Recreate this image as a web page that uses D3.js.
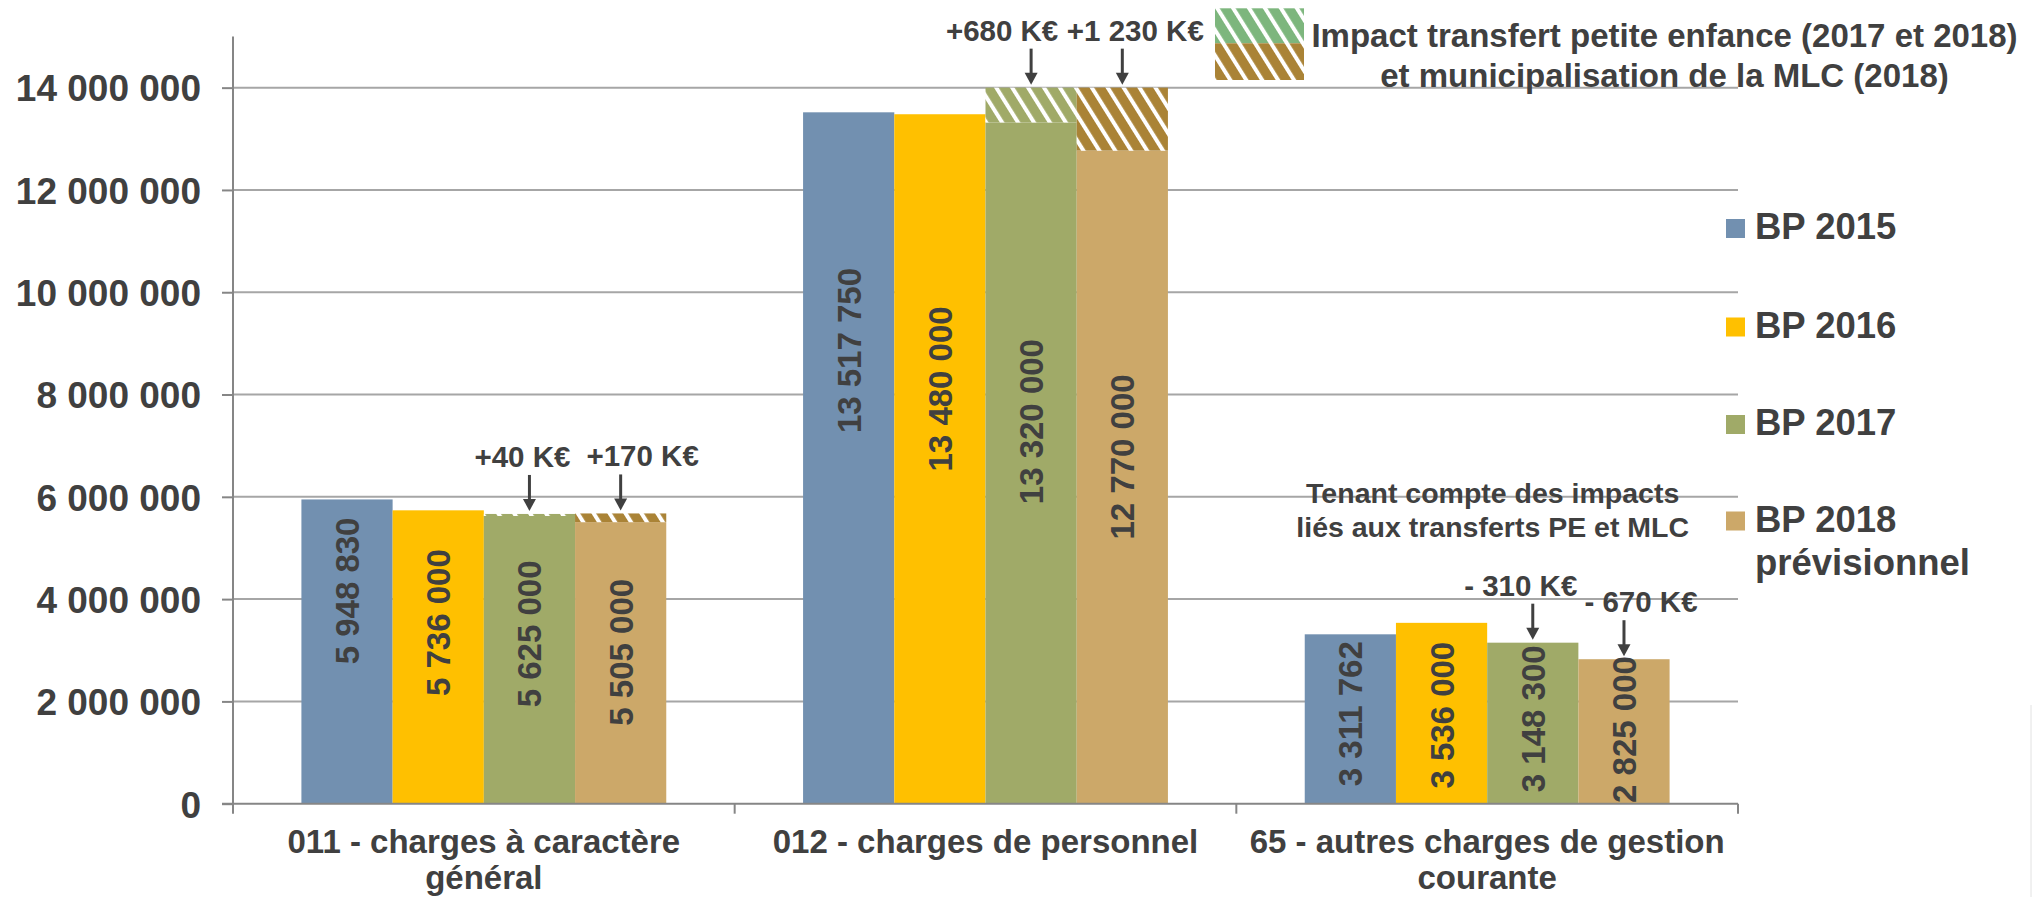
<!DOCTYPE html>
<html>
<head>
<meta charset="utf-8">
<script src="https://cdn.jsdelivr.net/npm/d3@7"></script>
<style>
  html, body { margin: 0; padding: 0; background: #fff; }
  svg text { font-family: "Liberation Sans", Arial, sans-serif; font-weight: bold; fill: #404040; }
</style>
</head>
<body>
<svg id="chart" width="2042" height="897"></svg>
<script>
// ---------- DATA ----------
const categories = ["011 - charges à caractère général", "012 - charges de personnel", "65 - autres charges de gestion courante"];
const categoryLines = [["011 - charges à caractère", "général"], ["012 - charges de personnel"], ["65 - autres charges de gestion", "courante"]];
const seriesNames = ["BP 2015", "BP 2016", "BP 2017", "BP 2018"];
const legendLines = [["BP 2015"], ["BP 2016"], ["BP 2017"], ["BP 2018", "prévisionnel"]];
const bp2015 = [5948830, 13517750, 3311762];
const bp2016 = [5736000, 13480000, 3536000];
const bp2017 = [5625000, 13320000, 3148300];
const bp2018 = [5505000, 12770000, 2825000];
// impacts (transfert petite enfance / municipalisation MLC), in euros
const impact2017 = [40000, 680000, -310000];
const impact2018 = [170000, 1230000, -670000];
const yTicks = [0, 2000000, 4000000, 6000000, 8000000, 10000000, 12000000, 14000000];
const yMax = 15000000;
const hatchLegendLines = ["Impact transfert petite enfance (2017 et 2018)", "et municipalisation de la MLC (2018)"];
const noteLines = ["Tenant compte des impacts", "liés aux transferts PE et MLC"];

// ---------- LAYOUT (not data) ----------
const colors = ["#7290B0", "#FFC000", "#A0AA68", "#CCA869"];
const hatchColors = { g: "#A0AA68", b: "#AA8336", gLegend: "#7DB67D" };
// centre of rotated value labels, in value units (millions), per series/category
const labelCenter = [[4.16, 8.86, 1.76], [3.54, 8.11, 1.73], [3.32, 7.47, 1.66], [2.96, 6.78, 1.45]];
// horizontal offset of the impact text relative to its arrow
const impactDx2017 = [-7, -29, -12];
const impactDx2018 = [22, 13, 17];

const svg = d3.select("#chart");
const pLeft = 233, pRight = 1738, pTop = 36.5, pBottom = 803.7;

const locale = d3.formatLocale({ decimal: ",", thousands: " ", grouping: [3], currency: ["", "€"] });
const fmt = locale.format(",d");

const x0 = d3.scaleBand().domain(categories).range([pLeft, pRight]).padding(0);
const bw = x0.bandwidth();
const x1 = d3.scaleBand().domain(seriesNames).range([bw * 0.75 / 5.5, bw - bw * 0.75 / 5.5]).padding(0);
const y = d3.scaleLinear().domain([0, yMax]).range([pBottom, pTop]);

// patterns
const defs = svg.append("defs");
function hatch(id, color) {
  const p = defs.append("pattern").attr("id", id).attr("patternUnits", "userSpaceOnUse")
    .attr("width", 13.5).attr("height", 40).attr("patternTransform", "rotate(-32)");
  p.append("rect").attr("width", 13.5).attr("height", 40).attr("fill", color);
  p.append("rect").attr("x", 0).attr("width", 4).attr("height", 40).attr("fill", "#fff");
}
hatch("hG", hatchColors.g);
hatch("hB", hatchColors.b);
hatch("hGL", hatchColors.gLegend);

// gridlines
svg.append("g").selectAll("line").data(yTicks.filter(d => d > 0)).join("line")
  .attr("x1", pLeft).attr("x2", pRight).attr("y1", d => y(d)).attr("y2", d => y(d))
  .attr("stroke", "#A6A6A6").attr("stroke-width", 2);

// y axis
const yAxis = svg.append("g").attr("transform", `translate(${pLeft},0)`)
  .call(d3.axisLeft(y).tickValues(yTicks).tickSize(11).tickPadding(32 - 11).tickFormat(fmt));
yAxis.select(".domain").attr("stroke", "#868686").attr("stroke-width", 2)
  .attr("d", `M0,${pTop}V${pBottom + 10}`);
yAxis.selectAll(".tick line").attr("stroke", "#868686").attr("stroke-width", 2);
yAxis.selectAll(".tick text").attr("font-size", 37).attr("dy", "0.36em").attr("fill", "#404040")
  .attr("font-family", "Liberation Sans, Arial, sans-serif").attr("font-weight", "bold");

// bars
const seriesData = [bp2015, bp2016, bp2017, bp2018];
const impacts = [null, null, impact2017, impact2018];
const gBars = svg.append("g");
categories.forEach((c, ci) => {
  seriesData.forEach((arr, si) => {
    const v = arr[ci];
    gBars.append("rect")
      .attr("x", x0(c) + x1(seriesNames[si]))
      .attr("y", y(v))
      .attr("width", x1.bandwidth())
      .attr("height", y(0) - y(v))
      .attr("fill", colors[si]);
    const imp = impacts[si] ? impacts[si][ci] : 0;
    if (imp > 0) {
      gBars.append("rect")
        .attr("x", x0(c) + x1(seriesNames[si]))
        .attr("y", y(v + imp))
        .attr("width", x1.bandwidth())
        .attr("height", y(v) - y(v + imp))
        .attr("fill", si === 2 ? "url(#hG)" : "url(#hB)");
    }
  });
});

// x axis
svg.append("line").attr("x1", pLeft - 11).attr("x2", pRight).attr("y1", pBottom).attr("y2", pBottom)
  .attr("stroke", "#868686").attr("stroke-width", 2);
const bounds = categories.map(c => x0(c)).concat([pRight]);
svg.append("g").selectAll("line").data(bounds.slice(1)).join("line")
  .attr("x1", d => d).attr("x2", d => d).attr("y1", pBottom).attr("y2", pBottom + 10)
  .attr("stroke", "#868686").attr("stroke-width", 2);

// category labels
categories.forEach((c, ci) => {
  const t = svg.append("text").attr("text-anchor", "middle").attr("font-size", 33)
    .attr("x", x0(c) + bw / 2).attr("y", 853);
  categoryLines[ci].forEach((ln, li) => {
    t.append("tspan").attr("x", x0(c) + bw / 2).attr("dy", li === 0 ? 0 : 36).text(ln);
  });
});

// value labels (rotated)
categories.forEach((c, ci) => {
  seriesData.forEach((arr, si) => {
    const cx = x0(c) + x1(seriesNames[si]) + x1.bandwidth() / 2;
    const cy = y(labelCenter[si][ci] * 1e6);
    svg.append("text").attr("text-anchor", "middle").attr("font-size", 33)
      .attr("transform", `translate(${cx + 12},${cy}) rotate(-90)`)
      .text(fmt(arr[ci]));
  });
});

// impact annotations with arrows
function kLabel(v) {
  const k = Math.abs(v) / 1000;
  return (v >= 0 ? "+" : "- ") + fmt(k) + " K€";
}
[[2, impact2017, impactDx2017], [3, impact2018, impactDx2018]].forEach(([si, imp, dxs]) => {
  categories.forEach((c, ci) => {
    const v = seriesData[si][ci];
    const topV = v + Math.max(imp[ci], 0);
    const cx = x0(c) + x1(seriesNames[si]) + x1.bandwidth() / 2;
    const tip = y(topV) - 3;
    const start = tip - 36;
    svg.append("line").attr("x1", cx).attr("x2", cx).attr("y1", start).attr("y2", tip - 11)
      .attr("stroke", "#404040").attr("stroke-width", 3);
    svg.append("path").attr("d", `M${cx - 6.5},${tip - 12}L${cx + 6.5},${tip - 12}L${cx},${tip}Z`)
      .attr("fill", "#404040");
    svg.append("text").attr("text-anchor", "middle").attr("font-size", 29.5)
      .attr("x", cx + dxs[ci]).attr("y", start - 8).text(kLabel(imp[ci]));
  });
});

// note
const note = svg.append("text").attr("text-anchor", "middle").attr("font-size", 28.5).attr("x", 1492.7).attr("y", 503);
noteLines.forEach((ln, i) => note.append("tspan").attr("x", 1492.7).attr("dy", i === 0 ? 0 : 34).text(ln));

// series legend
const legendBase = [239, 337.5, 435, 531.5];
seriesNames.forEach((s, i) => {
  svg.append("rect").attr("x", 1726).attr("y", legendBase[i] - 20).attr("width", 19).attr("height", 19)
    .attr("fill", colors[i]);
  const t = svg.append("text").attr("font-size", 36.5).attr("x", 1755).attr("y", legendBase[i]);
  legendLines[i].forEach((ln, li) => t.append("tspan").attr("x", 1755).attr("dy", li === 0 ? 0 : 43.5).text(ln));
});

// hatch legend
svg.append("rect").attr("x", 1215).attr("y", 8.3).attr("width", 89).attr("height", 35).attr("fill", "url(#hGL)");
svg.append("rect").attr("x", 1215).attr("y", 43.3).attr("width", 89).attr("height", 36.7).attr("fill", "url(#hB)");
const hl = svg.append("text").attr("text-anchor", "middle").attr("font-size", 33).attr("x", 1664.5).attr("y", 46.5);
hatchLegendLines.forEach((ln, i) => hl.append("tspan").attr("x", 1664.5).attr("dy", i === 0 ? 0 : 40.5).text(ln));

// faint border artifact on the right
svg.append("line").attr("x1", 2031).attr("x2", 2031).attr("y1", 705).attr("y2", 897)
  .attr("stroke", "#E2E2E2").attr("stroke-width", 1);
</script>
</body>
</html>
